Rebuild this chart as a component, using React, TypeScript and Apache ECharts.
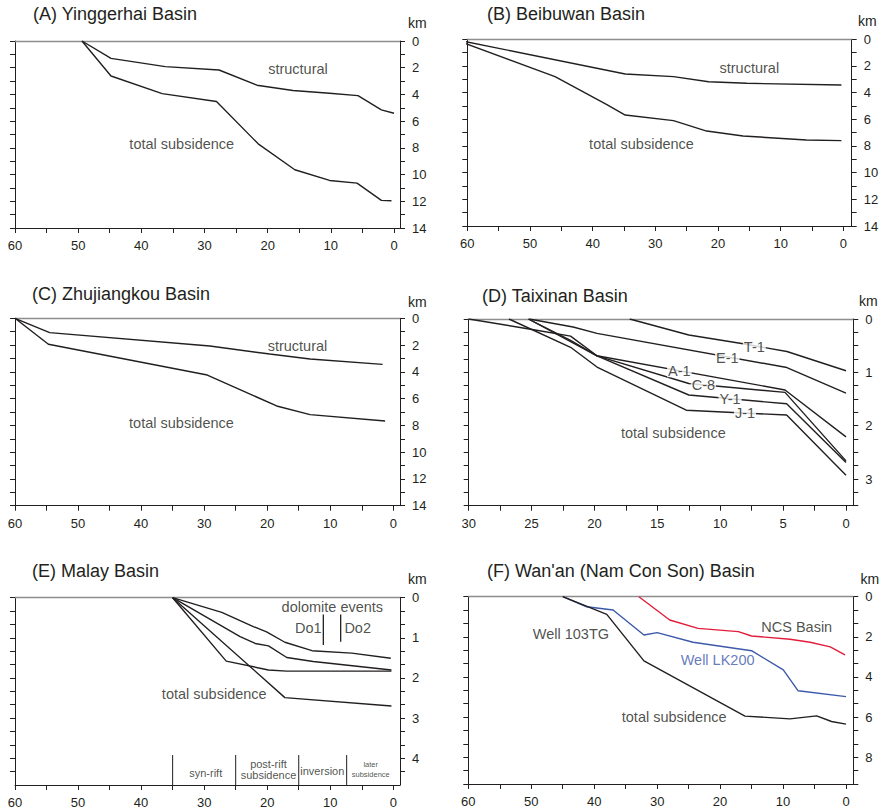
import React, { useEffect, useRef } from "react";
import * as echarts from "echarts";

const FONT = "'Liberation Sans', Arial, Helvetica, sans-serif";
const INK = "#231f20";
const RED = "#e11d3a";
const BLUE = "#3c59aa";

// ---------- data: [age (Ma), depth (km)] ----------
// (A) Yinggerhai
const aStructural = [[49.4, 0], [44.8, 1.3], [36.2, 1.92], [27.7, 2.17], [21.7, 3.31], [16.0, 3.71], [10.2, 3.91], [5.7, 4.09], [2.0, 5.16], [0, 5.41]];
const aTotal = [[49.4, 0], [44.8, 2.62], [36.7, 3.94], [28.1, 4.53], [21.5, 7.7], [15.7, 9.64], [10.2, 10.44], [5.85, 10.64], [2.0, 11.93], [0.4, 11.96]];
// (B) Beibuwan
const bStructural = [[62.1, 0], [34.8, 2.6], [27.1, 2.8], [21.5, 3.18], [15.4, 3.3], [0.3, 3.43]];
const bTotal = [[62.1, 0], [46, 2.8], [37.8, 4.88], [34.8, 5.68], [27.1, 6.1], [21.8, 6.88], [16, 7.25], [5.9, 7.55], [0.3, 7.6]];
// (C) Zhujiangkou
const cStructural = [[60, 0], [54.5, 1.07], [29.1, 2.07], [19.6, 2.67], [13.2, 3.04], [1.7, 3.44]];
const cTotal = [[60, 0], [54.7, 1.94], [29.5, 4.24], [18.5, 6.55], [13.2, 7.2], [1.3, 7.67]];
// (D) Taixinan wells
const dT1 = [[17.2, 0], [12.5, 0.3], [8.3, 0.46], [4.7, 0.61], [0, 0.97]];
const dE1 = [[25.2, 0], [21.7, 0.15], [19.8, 0.27], [4.7, 0.91], [0, 1.39]];
const dA1 = [[30, 0], [24.6, 0.21], [21.9, 0.32], [19.8, 0.69], [4.85, 1.33], [0, 2.21]];
const dC8 = [[25.25, 0], [19.8, 0.69], [12.5, 1.21], [4.85, 1.375], [0, 2.66]];
const dY1 = [[25.25, 0], [21.9, 0.4], [19.8, 0.69], [12.5, 1.425], [4.72, 1.59], [0, 2.69]];
const dJ1 = [[26.8, 0], [21.9, 0.53], [19.8, 0.9], [12.7, 1.71], [4.72, 1.8], [0, 2.93]];
// (E) Malay
const eCurve1 = [[35, 0], [27.2, 0.365], [22.2, 0.72], [20.1, 0.85], [17.2, 1.11], [12.9, 1.32], [6.6, 1.38], [0.4, 1.51]];
const eCurve2 = [[35, 0], [24.3, 0.97], [21.9, 1.14], [19.8, 1.2], [16.9, 1.49], [12.7, 1.59], [0.3, 1.8]];
const eCurve3 = [[35, 0], [26.5, 1.58], [19.8, 1.8], [16.9, 1.83], [0.3, 1.83]];
const eTotal = [[35, 0], [17.2, 2.49], [0.3, 2.7]];
const ePhaseBounds = [35, 25, 15, 7.4];
const ePhaseDepth = [3.92, 14 / 3];
const eDolomiteAges = [11.1, 8.35];
const eDolomiteDepth = [[0.42, 1.18], [0.42, 1.1]];
// (F) Wan'an (Nam Con Son)
const fWell103TG = [[45, 0], [38, 0.88], [32.1, 3.2], [16.05, 5.95], [8.9, 6.09], [4.66, 5.94], [2.3, 6.22], [0, 6.35]];
const fWellLK200 = [[45, 0], [41.2, 0.5], [37, 0.66], [32.1, 1.91], [30, 1.79], [24.3, 2.27], [15, 2.69], [9.96, 3.65], [7.6, 4.69], [0, 4.98]];
const fNCS = [[32.9, 0], [28, 1.16], [23.5, 1.58], [17.1, 1.74], [15, 1.96], [8.9, 2.12], [5.7, 2.27], [2.5, 2.5], [0.16, 2.9]];

// annotation texts anchored in data coordinates [age, depth, text]
const aNotes = [[15.2, 2.12, "structural"], [33.6, 7.7, "total subsidence"]];
const bNotes = [[15.0, 2.13, "structural"], [32.2, 7.85, "total subsidence"]];
const cNotes = [[15.2, 2.07, "structural"], [33.6, 7.79, "total subsidence"]];
const dWellNotes = [[7.29, 0.52, "T-1"], [9.44, 0.737, "E-1"], [13.25, 0.97, "A-1"], [11.34, 1.245, "C-8"], [9.22, 1.505, "Y-1"], [8.03, 1.77, "J-1"]];
const dNotes = [[13.73, 2.13, "total subsidence"]];
const eNotes = [[9.67, 0.24, "dolomite events"], [13.48, 0.746, "Do1"], [5.65, 0.746, "Do2"], [28.4, 2.4, "total subsidence"]];
const ePhaseNotes = [[29.75, 4.37, "syn-rift"], [19.8, 4.29, "post-rift\nsubsidence"], [11.26, 4.33, "inversion"]];
const ePhaseSmallNotes = [[3.58, 4.29, "later\nsubsidence"]];
const fBlackNotes = [[43.7, 1.86, "Well 103TG"], [27.3, 5.97, "total subsidence"]];
const fBlueNotes = [[20.4, 3.15, "Well LK200"]];
const fRedNotes = [[7.83, 1.49, "NCS Basin"]];

// ---------- layout ----------
type Panel = {
  title: string; titleLeft: number; titleTop: number; km: [number, number];
  grid: { left: number; top: number; width: number; height: number };
  xMin: number; xMax: number; xTick: number; xLabel: number;
  yMax: number; yTick: number; yLabels: number[];
};
const panels: Panel[] = [
  { title: "(A) Yinggerhai Basin", titleLeft: 33, titleTop: 5, km: [408, 23.4], grid: { left: 15, top: 41, width: 385, height: 187 }, xMin: -0.95, xMax: 60, xTick: 5, xLabel: 10, yMax: 14, yTick: 1, yLabels: [0, 2, 4, 6, 8, 10, 12, 14] },
  { title: "(B) Beibuwan Basin", titleLeft: 487, titleTop: 4.5, km: [858, 21.1], grid: { left: 467.3, top: 39.3, width: 384.4, height: 186.7 }, xMin: -1.34, xMax: 60, xTick: 5, xLabel: 10, yMax: 14, yTick: 1, yLabels: [0, 2, 4, 6, 8, 10, 12, 14] },
  { title: "(C) Zhujiangkou Basin", titleLeft: 32, titleTop: 284.5, km: [408, 301.8], grid: { left: 15, top: 318.3, width: 385, height: 187.4 }, xMin: -1.06, xMax: 60, xTick: 5, xLabel: 10, yMax: 14, yTick: 1, yLabels: [0, 2, 4, 6, 8, 10, 12, 14] },
  { title: "(D) Taixinan Basin", titleLeft: 482, titleTop: 287, km: [859, 300.8], grid: { left: 468.7, top: 319, width: 384.6, height: 186.7 }, xMin: -0.58, xMax: 30, xTick: 2.5, xLabel: 5, yMax: 3.5, yTick: 0.25, yLabels: [0, 1, 2, 3] },
  { title: "(E) Malay Basin", titleLeft: 32, titleTop: 562, km: [408, 579.4], grid: { left: 15, top: 597.7, width: 385, height: 187.3 }, xMin: -1.06, xMax: 60, xTick: 5, xLabel: 10, yMax: 14 / 3, yTick: 1 / 3, yLabels: [0, 1, 2, 3, 4] },
  { title: "(F) Wan'an (Nam Con Son) Basin", titleLeft: 487, titleTop: 562, km: [860.5, 579.4], grid: { left: 468.3, top: 596.7, width: 385, height: 187.3 }, xMin: -1.16, xMax: 60, xTick: 5, xLabel: 10, yMax: 28 / 3, yTick: 2 / 3, yLabels: [0, 2, 4, 6, 8] },
];

const steps = (max: number, step: number) => {
  const n = Math.round(max / step);
  return Array.from({ length: n + 1 }, (_, k) => +(k * step).toFixed(6));
};

function buildOption() {
  const grid: any[] = [];
  const xAxis: any[] = [];
  const yAxis: any[] = [];
  const title: any[] = [];
  const graphic: any[] = [];
  panels.forEach((p, i) => {
    grid.push({ ...p.grid, show: false, containLabel: false, outerBoundsMode: "none" });
    const axisTextStyle = { fontSize: 13, color: INK, fontFamily: FONT };
    xAxis.push({
      type: "value", gridIndex: i, position: "bottom", inverse: true, min: p.xMin, max: p.xMax,
      axisLine: { show: true, onZero: false, lineStyle: { color: INK, width: 1 } },
      axisTick: { show: true, inside: false, length: 5, customValues: steps(p.xMax, p.xTick), lineStyle: { color: INK, width: 1 } },
      axisLabel: { show: true, margin: 11, customValues: steps(p.xMax, p.xLabel), ...axisTextStyle },
      splitLine: { show: false },
    });
    xAxis.push({
      type: "value", gridIndex: i, position: "top", inverse: true, min: p.xMin, max: p.xMax,
      axisLine: { show: true, onZero: false, lineStyle: { color: "#8d8d8d", width: 1.3 } },
      axisTick: { show: false }, axisLabel: { show: false }, splitLine: { show: false },
    });
    yAxis.push({
      type: "value", gridIndex: i, position: "right", inverse: true, min: 0, max: p.yMax,
      axisLine: { show: true, onZero: false, lineStyle: { color: INK, width: 1 } },
      axisTick: { show: true, inside: false, length: 5, customValues: steps(p.yMax, p.yTick), lineStyle: { color: INK, width: 1 } },
      axisLabel: { show: true, margin: 12, customValues: p.yLabels, ...axisTextStyle },
      splitLine: { show: false },
    });
    yAxis.push({
      type: "value", gridIndex: i, position: "left", inverse: true, min: 0, max: p.yMax,
      axisLine: { show: true, onZero: false, lineStyle: { color: INK, width: 1 } },
      axisTick: { show: true, inside: false, length: 5, customValues: steps(p.yMax, p.yTick), lineStyle: { color: INK, width: 1 } },
      axisLabel: { show: false }, splitLine: { show: false },
    });
    title.push({
      text: p.title, left: p.titleLeft, top: p.titleTop, padding: 0,
      textStyle: { fontSize: 18, fontWeight: "normal", color: INK, fontFamily: FONT },
    });
    graphic.push({
      type: "text", x: p.km[0], y: p.km[1],
      style: { text: "km", fontSize: 14, fill: INK, fontFamily: FONT, verticalAlign: "middle", align: "left" },
    });
  });

  const line = (pi: number, data: number[][], color = INK, width = 1.4, clip = true) => ({
    type: "line", xAxisIndex: 2 * pi, yAxisIndex: 2 * pi, data, symbol: "none", showSymbol: false,
    lineStyle: { color, width }, clip, silent: true, z: 2, animation: false,
  });
  const notes = (pi: number, items: any[], color = INK, fontSize = 14.5, extra: any = {}) => ({
    type: "scatter", xAxisIndex: 2 * pi, yAxisIndex: 2 * pi, symbolSize: 0, silent: true, z: 6,
    data: items.map((it) => ({ value: [it[0], it[1]], name: it[2] })),
    label: { show: true, position: "inside", formatter: "{b}", color, fontSize, fontFamily: FONT, ...extra },
    animation: false,
  });

  const series: any[] = [
    line(0, aStructural), line(0, aTotal), notes(0, aNotes),
    line(1, bStructural, INK, 1.4, false), line(1, bTotal, INK, 1.4, false), notes(1, bNotes),
    line(2, cStructural), line(2, cTotal), notes(2, cNotes),
    line(3, dT1), line(3, dE1), line(3, dA1), line(3, dC8), line(3, dY1), line(3, dJ1),
    notes(3, dWellNotes, INK, 14.5, { backgroundColor: "#ffffff", padding: [0, 1], lineHeight: 13 }),
    notes(3, dNotes),
    line(4, eCurve1), line(4, eCurve2), line(4, eCurve3), line(4, eTotal),
    ...ePhaseBounds.map((x) => line(4, [[x, ePhaseDepth[0]], [x, ePhaseDepth[1]]], INK, 1)),
    ...eDolomiteAges.map((x, k) => line(4, [[x, eDolomiteDepth[k][0]], [x, eDolomiteDepth[k][1]]], INK, 1.3)),
    notes(4, eNotes),
    notes(4, ePhaseNotes, INK, 11, { lineHeight: 11 }),
    notes(4, ePhaseSmallNotes, INK, 7.5, { lineHeight: 10 }),
    line(5, fWellLK200, BLUE), line(5, fNCS, RED), line(5, fWell103TG),
    notes(5, fBlackNotes), notes(5, fBlueNotes, BLUE), notes(5, fRedNotes),
  ];

  return {
    animation: false,
    backgroundColor: "#ffffff",
    textStyle: { fontFamily: FONT },
    title, grid, xAxis, yAxis, series, graphic,
  };
}

export default function App() {
  const ref = useRef<HTMLDivElement>(null);
  useEffect(() => {
    if (!ref.current) return;
    const chart = echarts.init(ref.current, undefined, { renderer: "svg" });
    chart.setOption(buildOption() as any);
    return () => chart.dispose();
  }, []);
  return (
    <div
      ref={ref}
      style={{ position: "absolute", left: 0, top: 0, width: 885, height: 812, background: "#fff" }}
    />
  );
}
